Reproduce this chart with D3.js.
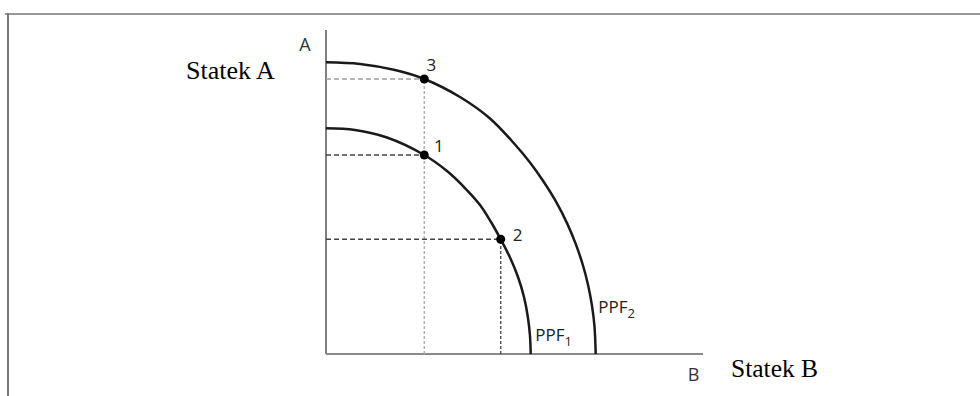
<!DOCTYPE html>
<html>
<head>
<meta charset="utf-8">
<script src="https://cdn.jsdelivr.net/npm/d3@7"></script>
<style>
  html, body { margin: 0; padding: 0; background: #fff; }
  svg { display: block; }
</style>
</head>
<body>
<svg id="chart" width="980" height="396"></svg>
<script>
// ---- data (abstract units 0..100) ----
const ppf1X = [0, 7.69, 16.18, 26.07, 32.10, 36.87, 40.85, 43.77, 46.34, 48.81, 50.93, 52.52, 53.58, 54.11, 54.30];
const ppf1Y = [69.66, 69.14, 66.82, 61.42, 56.48, 51.23, 45.99, 40.74, 35.40, 29.78, 23.77, 17.59, 11.11, 5.56, 0];
const ppf2X = [0, 9.02, 18.30, 26.07, 35.54, 43.50, 50.13, 54.11, 57.56, 61.01, 63.93, 66.31, 68.17, 69.50, 70.56, 71.22, 71.54];
const ppf2Y = [90.03, 89.51, 87.65, 84.88, 79.32, 72.69, 64.66, 59.10, 53.46, 47.01, 40.40, 33.77, 27.31, 21.36, 14.85, 8.49, 0];
const pointNames = ["3", "1", "2"];
const pointX = [26.07, 26.07, 46.34];
const pointY = [84.88, 61.42, 35.40];
const curveNames = ["PPF", "PPF"];
const curveSubs = ["1", "2"];
const axisNames = ["A", "B"];
const outerLabels = ["Statek A", "Statek B"];

// ---- drawing ----
const svg = d3.select("#chart");
const x = d3.scaleLinear().domain([0, 100]).range([326, 703]);
const y = d3.scaleLinear().domain([0, 100]).range([354, 30]);
const sans = "'Open Sans', sans-serif";

// frame
svg.append("line").attr("x1", 5).attr("x2", 980).attr("y1", 14).attr("y2", 14)
  .attr("stroke", "#999").attr("stroke-width", 2.2);
svg.append("line").attr("x1", 8).attr("x2", 8).attr("y1", 13).attr("y2", 396)
  .attr("stroke", "#777").attr("stroke-width", 2);

// axes
svg.append("line").attr("x1", x(0)).attr("x2", x(0)).attr("y1", y(100)).attr("y2", y(0))
  .attr("stroke", "#555").attr("stroke-width", 1.5);
svg.append("line").attr("x1", x(0)).attr("x2", x(100)).attr("y1", y(0)).attr("y2", y(0))
  .attr("stroke", "#8a8a8a").attr("stroke-width", 2);

// dashed guides
const guides = [
  {x1: 0, y1: pointY[0], x2: pointX[0], y2: pointY[0], c: "#a0a0a0", d: "5,3"},
  {x1: pointX[0], y1: 0, x2: pointX[0], y2: pointY[0], c: "#b0b0b0", d: "3,2"},
  {x1: 0, y1: pointY[1], x2: pointX[1], y2: pointY[1], c: "#444", d: "5,3"},
  {x1: 0, y1: pointY[2], x2: pointX[2], y2: pointY[2], c: "#444", d: "5,3"},
  {x1: pointX[2], y1: 0, x2: pointX[2], y2: pointY[2], c: "#555", d: "3,2"}
];
svg.selectAll("line.guide").data(guides).join("line").attr("class", "guide")
  .attr("x1", d => x(d.x1)).attr("y1", d => y(d.y1))
  .attr("x2", d => x(d.x2)).attr("y2", d => y(d.y2))
  .attr("stroke", d => d.c).attr("stroke-width", 1.5).attr("stroke-dasharray", d => d.d);

// curves
const line = d3.line().x(d => x(d[0])).y(d => y(d[1])).curve(d3.curveCatmullRom.alpha(0.5));
const curves = [d3.zip(ppf1X, ppf1Y), d3.zip(ppf2X, ppf2Y)];
svg.selectAll("path.ppf").data(curves).join("path").attr("class", "ppf")
  .attr("d", line).attr("fill", "none").attr("stroke", "#1a1a1a").attr("stroke-width", 2.5);

// points
const pts = pointNames.map((n, i) => ({n, x: pointX[i], y: pointY[i]}));
svg.selectAll("circle.pt").data(pts).join("circle").attr("class", "pt")
  .attr("cx", d => x(d.x)).attr("cy", d => y(d.y)).attr("r", 4.5).attr("fill", "#000");

const ptOffsets = [[7, -8], [14.5, -3], [17, 2]];
svg.selectAll("text.ptl").data(pts).join("text").attr("class", "ptl")
  .attr("x", (d, i) => x(d.x) + ptOffsets[i][0]).attr("y", (d, i) => y(d.y) + ptOffsets[i][1])
  .attr("text-anchor", "middle").attr("font-family", sans)
  .attr("font-size", 17).attr("fill", "#222").text(d => d.n);

// curve labels
const curveEnds = [ppf1X[ppf1X.length - 1], ppf2X[ppf2X.length - 1]];
const curveOff = [[4.5, -13], [2.5, -41]];
curveNames.forEach((n, i) => {
  const t = svg.append("text")
    .attr("x", x(curveEnds[i]) + curveOff[i][0]).attr("y", y(0) + curveOff[i][1])
    .attr("font-family", sans).attr("font-size", 17).attr("fill", "#222");
  t.append("tspan").text(n);
  t.append("tspan").attr("dy", 5).attr("font-size", 13).text(curveSubs[i]);
});

// axis letters
svg.append("text").attr("x", x(0) - 21).attr("y", y(100) + 21).attr("text-anchor", "middle")
  .attr("font-family", sans).attr("font-size", 18).attr("fill", "#333")
  .text(axisNames[0]);
svg.append("text").attr("x", x(100) - 9.5).attr("y", y(0) + 27).attr("text-anchor", "middle")
  .attr("font-family", sans).attr("font-size", 18).attr("fill", "#333")
  .text(axisNames[1]);

// outer labels
svg.append("text").attr("x", 186).attr("y", 79)
  .attr("font-family", "'Liberation Serif', 'Times New Roman', serif").attr("font-size", 26)
  .attr("fill", "#000").text(outerLabels[0]);
svg.append("text").attr("x", 731).attr("y", 377)
  .attr("font-family", "'Liberation Serif', 'Times New Roman', serif").attr("font-size", 25.5)
  .attr("fill", "#000").text(outerLabels[1]);
</script>
</body>
</html>
